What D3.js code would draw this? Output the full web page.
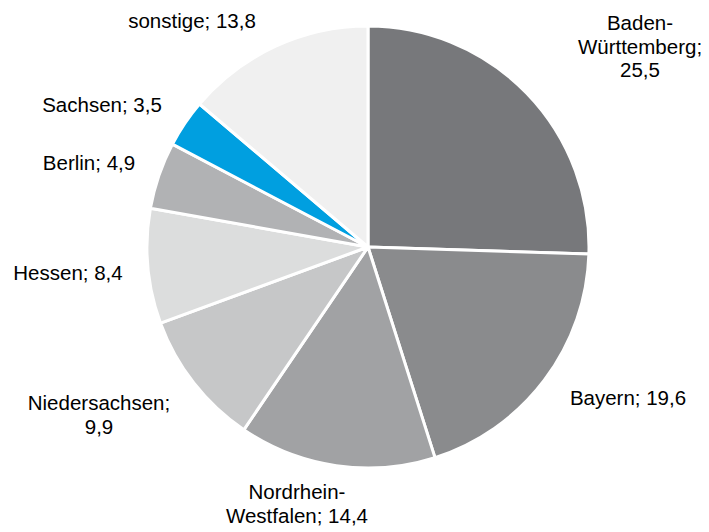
<!DOCTYPE html>
<html>
<head>
<meta charset="utf-8">
<script src="https://cdn.jsdelivr.net/npm/d3@7"></script>
<style>
  html, body { margin: 0; padding: 0; background: #fff; }
  svg { display: block; }
  text { font-family: "Liberation Sans", Arial, sans-serif; font-size: 20.5px; fill: #000; }
</style>
</head>
<body>
<svg id="chart" width="709" height="532"></svg>
<script>
// Data
const categories = ["Baden-Württemberg", "Bayern", "Nordrhein-Westfalen", "Niedersachsen", "Hessen", "Berlin", "Sachsen", "sonstige"];
const values = [25.5, 19.6, 14.4, 9.9, 8.4, 4.9, 3.5, 13.8];
const valueLabels = ["25,5", "19,6", "14,4", "9,9", "8,4", "4,9", "3,5", "13,8"];
const labelLines = [
  ["Baden-", "Württemberg;", "25,5"],
  ["Bayern; 19,6"],
  ["Nordrhein-", "Westfalen; 14,4"],
  ["Niedersachsen;", "9,9"],
  ["Hessen; 8,4"],
  ["Berlin; 4,9"],
  ["Sachsen; 3,5"],
  ["sonstige; 13,8"]
];
const colors = ["#77787b", "#8a8b8d", "#a1a2a4", "#c6c7c8", "#dcdddd", "#b1b2b4", "#009fe0", "#f0f0f0"];

// Layout
const cx = 368, cy = 247, radius = 221;
// label anchor positions (center x, first baseline y)
const labelPos = [[640, 30], [628, 405], [297, 499], [99, 410], [68, 280], [89, 170], [102, 112], [192, 28]];
const lineHeight = 23.5;

const svg = d3.select("#chart");
const g = svg.append("g").attr("transform", `translate(${cx},${cy})`);

const pie = d3.pie().sort(null).value(d => d)(values);
const arc = d3.arc().innerRadius(0).outerRadius(radius);

g.selectAll("path.slice")
  .data(pie)
  .join("path")
  .attr("class", "slice")
  .attr("d", arc)
  .attr("fill", (d, i) => colors[i])
  .attr("stroke", "#fff")
  .attr("stroke-width", 3)
  .attr("stroke-linejoin", "round");

const labels = svg.selectAll("text.lbl")
  .data(labelLines)
  .join("text")
  .attr("class", "lbl")
  .attr("text-anchor", "middle")
  .attr("x", (d, i) => labelPos[i][0])
  .attr("y", (d, i) => labelPos[i][1]);

labels.each(function(lines, i) {
  d3.select(this).selectAll("tspan")
    .data(lines)
    .join("tspan")
    .attr("x", labelPos[i][0])
    .attr("dy", (d, j) => j === 0 ? 0 : lineHeight)
    .text(d => d);
});
</script>
</body>
</html>
